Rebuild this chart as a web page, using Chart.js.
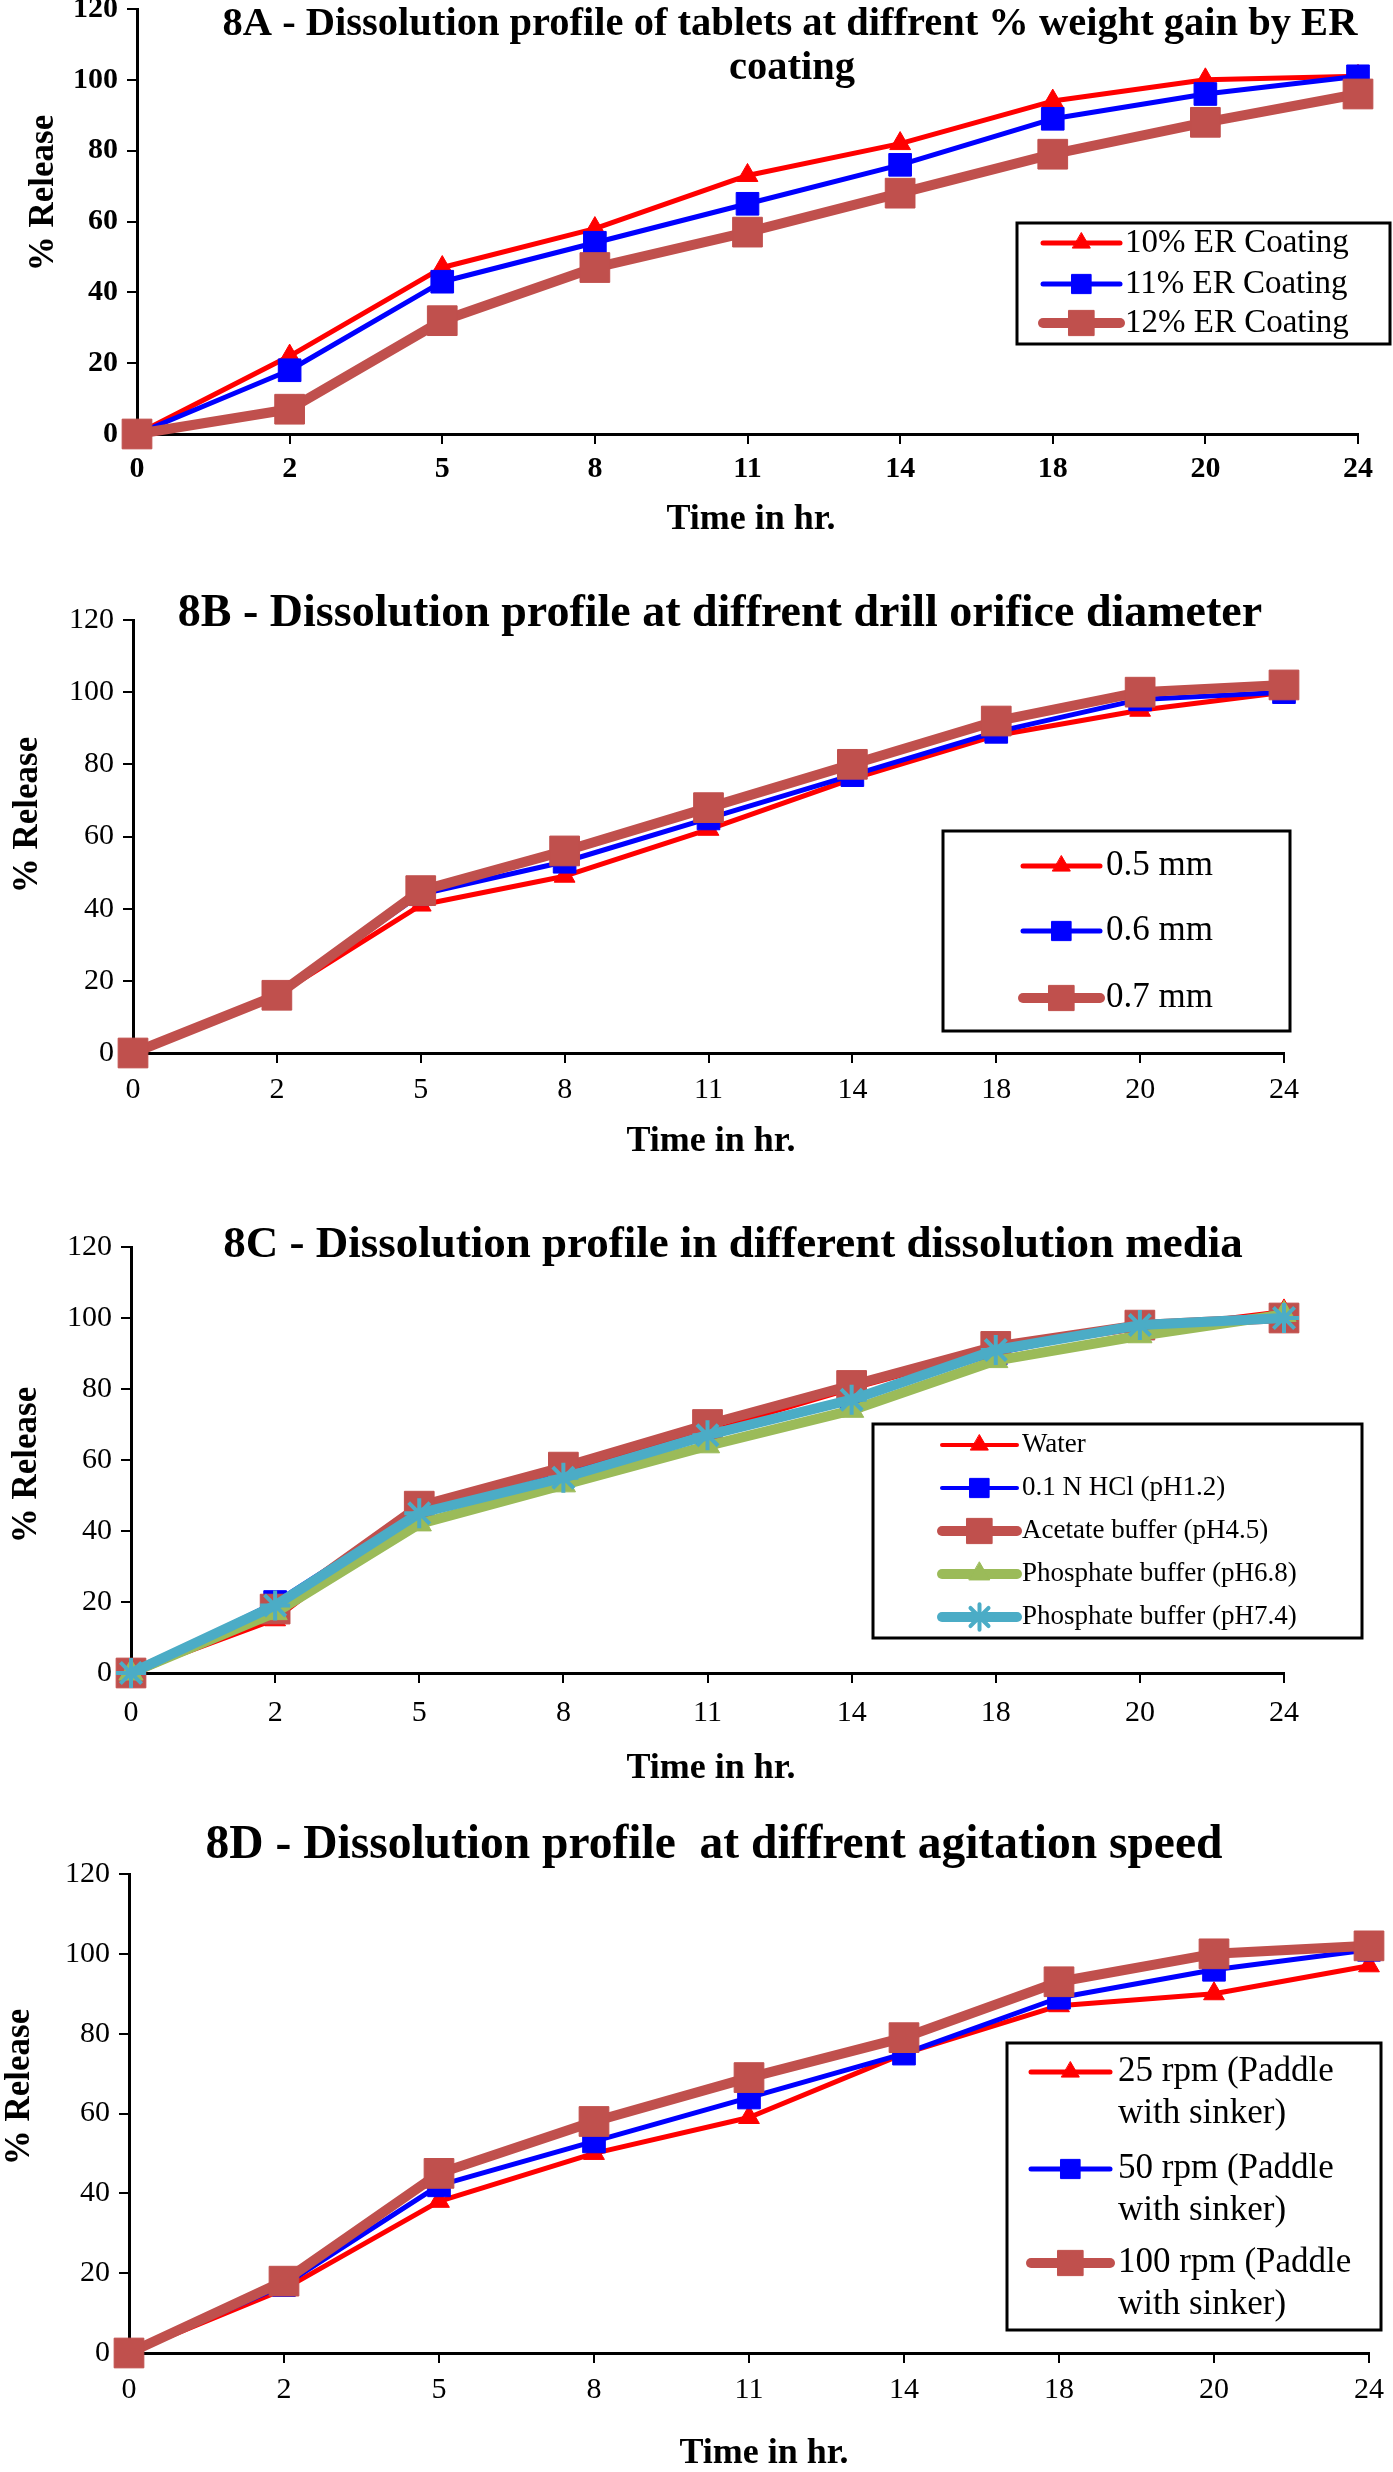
<!DOCTYPE html>
<html>
<head>
<meta charset="utf-8">
<script src="https://cdn.jsdelivr.net/npm/chart.js@4.4.1/dist/chart.umd.min.js"></script>
<style>
  html, body { margin: 0; padding: 0; background: #fff; }
  body { position: relative; width: 1393px; height: 2472px; overflow: hidden; }
  canvas { position: absolute; left: 0; }
</style>
</head>
<body>
<canvas id="c8a"></canvas>
<canvas id="c8b"></canvas>
<canvas id="c8c"></canvas>
<canvas id="c8d"></canvas>
<script>
// time points (hr), shared by all four panels
var hours = ["0", "2", "5", "8", "11", "14", "18", "20", "24"];
var yTickValues = [0, 20, 40, 60, 80, 100, 120];

// 8A - % weight gain by ER coating
var coat10 = [0, 22, 47, 58, 73, 82, 94, 100, 101];
var coat11 = [0, 18, 43, 54, 65, 76, 89, 96, 101];
var coat12 = [0, 7, 32, 47, 57, 68, 79, 88, 96];

// 8B - drill orifice diameter
var orifice05 = [0, 16, 41, 49, 62, 76, 88, 95, 100];
var orifice06 = [0, 16, 44, 53, 65, 77, 89, 98, 100];
var orifice07 = [0, 16, 45, 56, 68, 80, 92, 100, 102];

// 8C - dissolution media
var water = [0, 15, 46, 57, 68, 80, 91, 97, 102];
var hcl = [0, 20, 46, 56, 67, 77, 90, 98, 100];
var acetate = [0, 18, 47, 58, 70, 81, 92, 98, 100];
var phos68 = [0, 17, 42, 53, 64, 74, 88, 95, 101];
var phos74 = [0, 19, 45, 55, 67, 77, 91, 98, 100];

// 8D - agitation speed
var rpm25 = [0, 16, 38, 50, 59, 75, 87, 90, 97];
var rpm50 = [0, 17, 42, 53, 64, 75, 89, 96, 101];
var rpm100 = [0, 18, 45, 58, 69, 79, 93, 100, 102];

var SERIF = "'Liberation Serif', 'Times New Roman', serif";

var looks = {
    red:   { color: "#FF0000", width: 5, style: "triangle", radius: 12 },
    blue:  { color: "#0000FF", width: 5, style: "rect", radius: 16 },
    brown: { color: "#C0504D", width: 10, style: "rect", radius: 21 },
    green: { color: "#9BBB59", width: 10, style: "triangle", radius: 14 },
    cyan:  { color: "#4BACC6", width: 10, style: "star", radius: 15 }
};

function series(label, values, look, idx, count) {
    return {
        label: label,
        data: values,
        borderColor: look.color,
        backgroundColor: look.color,
        borderWidth: look.width,
        borderJoinStyle: "round",
        pointStyle: look.style,
        pointRadius: look.radius,
        pointBackgroundColor: look.color,
        pointBorderColor: look.color,
        pointBorderWidth: look.style === "star" ? 4 : 1,
        tension: 0,
        fill: false,
        clip: false,
        order: count - idx
    };
}

// draws the panel title, axis titles and boxed legend at page positions
function decor(cfg) {
    return {
        id: "decor",
        afterDraw: function (chart) {
            var ctx = chart.ctx;
            var dy = -cfg.top;
            ctx.save();
            ctx.fillStyle = "#000";
            ctx.textAlign = "center";
            ctx.textBaseline = "alphabetic";
            ctx.font = "bold " + cfg.titleSize + "px " + SERIF;
            cfg.title.forEach(function (t) {
                ctx.fillText(t.text, t.x, t.y + dy);
            });
            ctx.textBaseline = "middle";
            ctx.font = "bold 36px " + SERIF;
            ctx.fillText("Time in hr.", cfg.xLabel.x, cfg.xLabel.y + dy);
            ctx.save();
            ctx.translate(cfg.yLabel.x, cfg.yLabel.y + dy);
            ctx.rotate(-Math.PI / 2);
            ctx.font = "bold 35px " + SERIF;
            ctx.fillText("% Release", 0, 0);
            ctx.restore();

            var lg = cfg.legend;
            ctx.lineWidth = 3;
            ctx.strokeStyle = "#000";
            ctx.strokeRect(lg.x0, lg.y0 + dy, lg.x1 - lg.x0, lg.y1 - lg.y0);
            ctx.textAlign = "left";
            ctx.font = lg.size + "px " + SERIF;
            chart.data.datasets.forEach(function (ds, i) {
                var y = lg.rows[i] + dy;
                ctx.strokeStyle = ds.borderColor;
                ctx.lineWidth = ds.borderWidth;
                ctx.lineCap = "round";
                ctx.beginPath();
                ctx.moveTo(lg.sx0, y);
                ctx.lineTo(lg.sx1, y);
                ctx.stroke();
                ctx.fillStyle = ds.borderColor;
                ctx.lineWidth = ds.pointBorderWidth;
                Chart.helpers.drawPoint(ctx, {
                    pointStyle: ds.pointStyle,
                    radius: ds.pointRadius * 0.85,
                    rotation: 0,
                    borderWidth: ds.pointBorderWidth
                }, (lg.sx0 + lg.sx1) / 2, y);
                ctx.fillStyle = "#000";
                ds.label.split("\n").forEach(function (line, k) {
                    ctx.fillText(line, lg.tx, y + k * lg.gap);
                });
            });
            ctx.restore();
        }
    };
}

function panel(id, cfg, datasets) {
    var canvas = document.getElementById(id);
    canvas.width = 1393;
    canvas.height = cfg.height;
    canvas.style.top = cfg.top + "px";
    canvas.style.width = "1393px";
    canvas.style.height = cfg.height + "px";
    var p = cfg.plot;
    var tickFont = { family: SERIF, size: 30, weight: cfg.boldTicks ? "bold" : "normal" };
    var axisGrid = { drawOnChartArea: false, drawTicks: true, tickLength: 10, color: "#000", lineWidth: 2 };
    new Chart(canvas, {
        type: "line",
        data: { labels: hours, datasets: datasets },
        options: {
            responsive: false,
            animation: false,
            devicePixelRatio: 1,
            events: [],
            layout: { padding: { top: p.t - cfg.top, right: 1393 - p.r, left: 0, bottom: 0 } },
            plugins: { legend: { display: false }, tooltip: { enabled: false }, title: { display: false } },
            scales: {
                x: {
                    type: "category",
                    offset: false,
                    grid: axisGrid,
                    border: { display: true, color: "#000", width: 3 },
                    ticks: { color: "#000", font: tickFont, padding: cfg.xPad, maxRotation: 0, autoSkip: false },
                    afterFit: function (s) { s.height = cfg.top + cfg.height - p.b; }
                },
                y: {
                    min: yTickValues[0],
                    max: yTickValues[yTickValues.length - 1],
                    grid: axisGrid,
                    border: { display: true, color: "#000", width: 3 },
                    ticks: { color: "#000", font: tickFont, padding: 9, stepSize: yTickValues[1] - yTickValues[0] },
                    afterFit: function (s) { s.width = p.l; }
                }
            }
        },
        plugins: [decor(cfg)]
    });
}

panel("c8a", {
    top: -30, height: 590, boldTicks: true, xPad: 7,
    plot: { l: 137, r: 1358, t: 9, b: 434 },
    titleSize: 40.5,
    title: [
        { text: "8A - Dissolution profile of tablets at diffrent % weight gain by ER", x: 790, y: 35 },
        { text: "coating", x: 792, y: 79 }
    ],
    xLabel: { x: 751, y: 520 },
    yLabel: { x: 44, y: 193 },
    legend: { x0: 1017, y0: 223, x1: 1390, y1: 344, rows: [243, 284, 323], sx0: 1043, sx1: 1120, tx: 1125, size: 33, gap: 0 }
}, [
    series("10% ER Coating", coat10, looks.red, 0, 3),
    series("11% ER Coating", coat11, looks.blue, 1, 3),
    series("12% ER Coating", coat12, looks.brown, 2, 3)
]);

panel("c8b", {
    top: 560, height: 610, xPad: 9,
    plot: { l: 133, r: 1284, t: 620, b: 1053 },
    titleSize: 46,
    title: [{ text: "8B - Dissolution profile at diffrent drill orifice diameter", x: 720, y: 626 }],
    xLabel: { x: 711, y: 1142 },
    yLabel: { x: 28, y: 815 },
    legend: { x0: 943, y0: 831, x1: 1290, y1: 1031, rows: [866, 931, 998], sx0: 1023, sx1: 1100, tx: 1106, size: 35, gap: 0 }
}, [
    series("0.5 mm", orifice05, looks.red, 0, 3),
    series("0.6 mm", orifice06, looks.blue, 1, 3),
    series("0.7 mm", orifice07, looks.brown, 2, 3)
]);

panel("c8c", {
    top: 1170, height: 620, xPad: 12,
    plot: { l: 131, r: 1284, t: 1247, b: 1673 },
    titleSize: 45,
    title: [{ text: "8C - Dissolution profile in different dissolution media", x: 733, y: 1257 }],
    xLabel: { x: 711, y: 1769 },
    yLabel: { x: 27, y: 1465 },
    legend: { x0: 873, y0: 1424, x1: 1362, y1: 1638, rows: [1445, 1488, 1531, 1574, 1617], sx0: 942, sx1: 1017, tx: 1022, size: 27, gap: 0 }
}, [
    series("Water", water, { color: "#FF0000", width: 4, style: "triangle", radius: 12 }, 0, 5),
    series("0.1 N HCl (pH1.2)", hcl, { color: "#0000FF", width: 4, style: "rect", radius: 16 }, 1, 5),
    series("Acetate buffer (pH4.5)", acetate, looks.brown, 2, 5),
    series("Phosphate buffer (pH6.8)", phos68, looks.green, 3, 5),
    series("Phosphate buffer (pH7.4)", phos74, looks.cyan, 4, 5)
]);

panel("c8d", {
    top: 1790, height: 682, xPad: 9,
    plot: { l: 129, r: 1376, t: 1874, b: 2353 },
    titleSize: 47.5,
    title: [{ text: "8D - Dissolution profile  at diffrent agitation speed", x: 714, y: 1858 }],
    xLabel: { x: 764, y: 2454 },
    yLabel: { x: 20, y: 2087 },
    legend: { x0: 1007, y0: 2043, x1: 1381, y1: 2330, rows: [2072, 2169, 2263], sx0: 1031, sx1: 1110, tx: 1118, size: 35, gap: 42 }
}, [
    series("25 rpm (Paddle\nwith sinker)", rpm25, looks.red, 0, 3),
    series("50 rpm (Paddle\nwith sinker)", rpm50, looks.blue, 1, 3),
    series("100 rpm (Paddle\nwith sinker)", rpm100, looks.brown, 2, 3)
]);
</script>
</body>
</html>
